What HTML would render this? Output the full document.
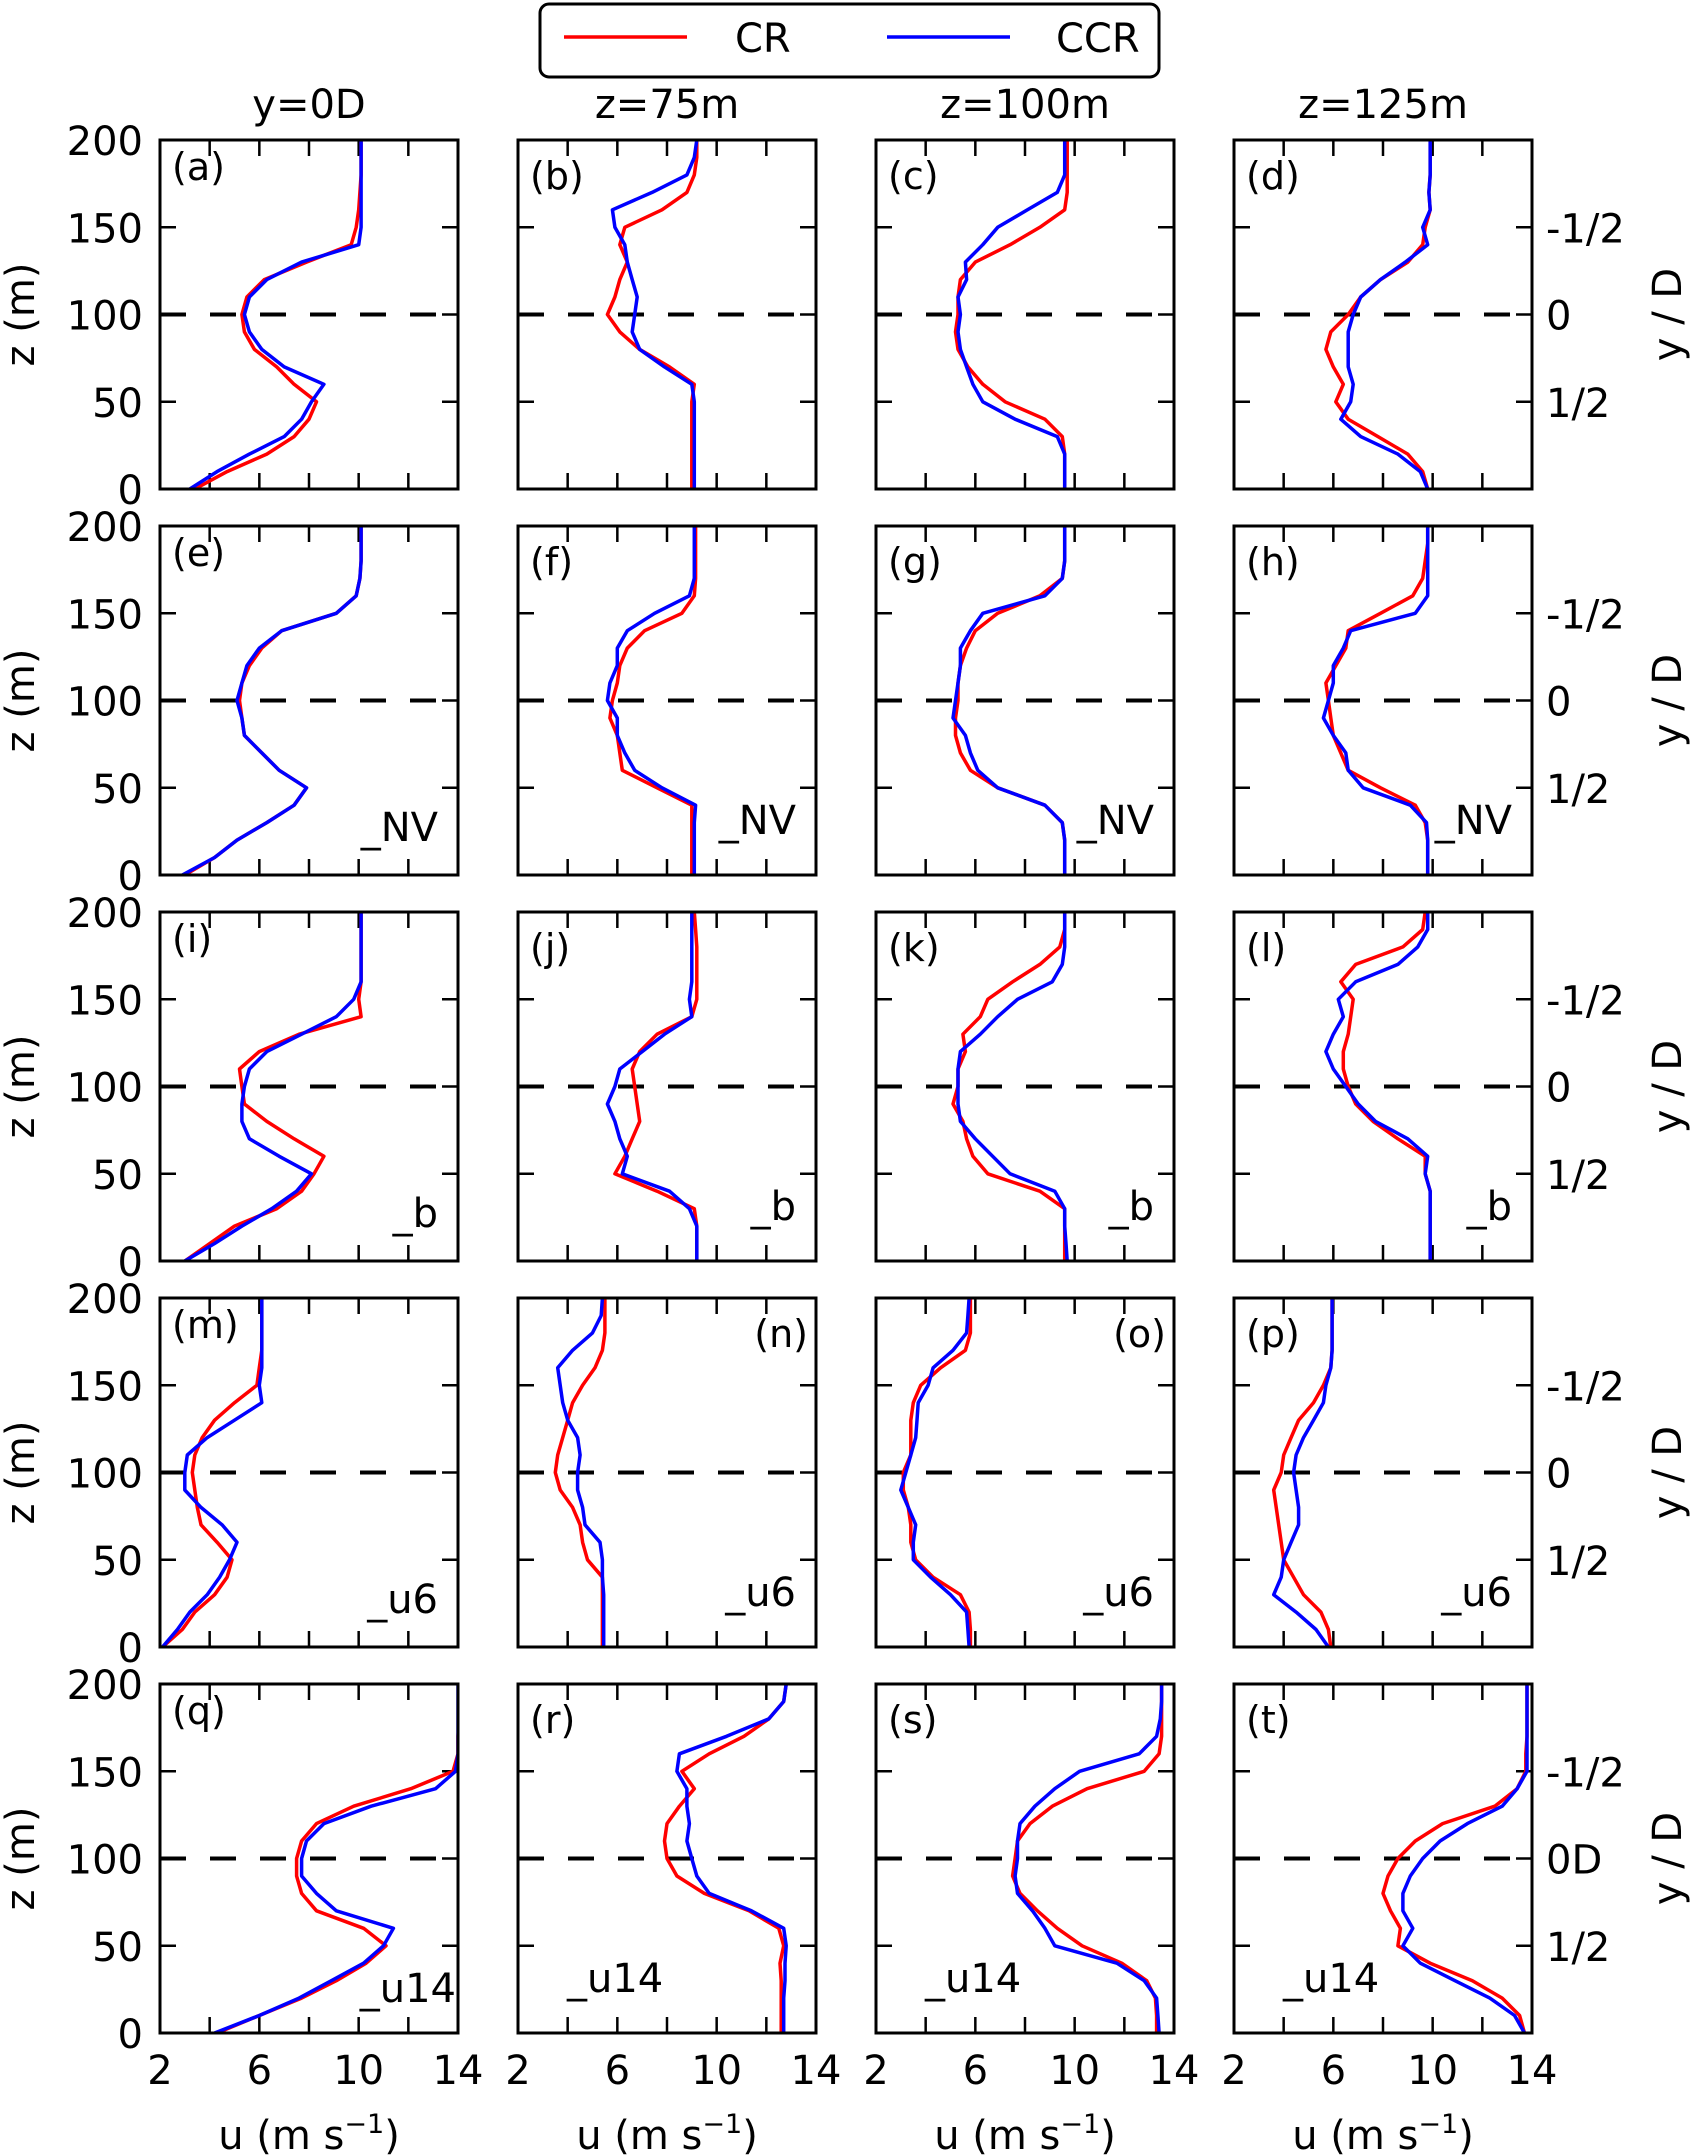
<!DOCTYPE html>
<html><head><meta charset="utf-8">
<style>
html,body{margin:0;padding:0;background:#fff;}
svg{display:block;font-family:"DejaVu Sans","Liberation Sans",sans-serif;}
</style></head>
<body>
<svg id="fig" width="1692" height="2155" viewBox="0 0 1692 2155" xmlns="http://www.w3.org/2000/svg">
  <g>
    <rect x="540" y="4" width="619" height="73" rx="9" fill="#fff" stroke="#000" stroke-width="3"/>
    <line x1="564" y1="37" x2="687" y2="37" stroke="#ff0000" stroke-width="3.5"/>
    <text x="735" y="52" font-size="40">CR</text>
    <line x1="887" y1="37" x2="1010" y2="37" stroke="#0000ff" stroke-width="3.5"/>
    <text x="1056" y="52" font-size="40">CCR</text>
  </g>
</svg>
<script>
const zLevels=[0,10,20,30,40,50,60,70,80,90,100,110,120,130,140,150,160,170,180,190,200];
const colTitles=["y=0D","z=75m","z=100m","z=125m"];
const panelLetters=["a","b","c","d","e","f","g","h","i","j","k","l","m","n","o","p","q","r","s","t"];
const rowSuffix=["","_NV","_b","_u6","_u14"];
const xTicks=[2,4,6,8,10,12,14];
const xTickLabels=["2","","6","","10","","14"];
const yTicks=[0,50,100,150,200];
const yTickLabels=["0","50","100","150","200"];
const rightLabelVals=[150,100,50];
const rightLabels=["-1/2","0","1/2"];
const rightLabelsLast=["-1/2","0D","1/2"];
const refHeight=100;
const crSeries=[
[3.4,4.7,6.3,7.4,8.0,8.3,7.4,6.7,5.8,5.4,5.3,5.5,6.2,7.9,9.7,9.9,10.0,10.05,10.1,10.1,10.1],
[9.0,9.0,9.0,9.0,9.0,9.0,9.1,8.1,6.9,6.1,5.6,5.9,6.1,6.4,6.1,6.3,7.8,8.8,9.1,9.2,9.2],
[9.6,9.6,9.6,9.5,8.8,7.2,6.3,5.7,5.3,5.2,5.3,5.3,5.4,6.0,7.4,8.6,9.6,9.7,9.7,9.7,9.7],
[9.8,9.6,9.0,7.8,6.6,6.1,6.4,6.0,5.7,5.9,6.6,7.1,7.9,9.0,9.6,9.7,9.9,9.85,9.9,9.9,9.9],
[3.0,4.2,5.1,6.3,7.4,7.9,6.8,6.1,5.4,5.3,5.2,5.3,5.6,6.1,6.9,9.1,9.9,10.05,10.1,10.1,10.1],
[9.0,9.0,9.0,9.0,9.0,7.6,6.2,6.1,6.0,5.7,5.8,6.0,6.1,6.4,7.1,8.6,9.1,9.15,9.15,9.15,9.15],
[9.6,9.6,9.6,9.5,8.8,6.9,5.8,5.4,5.2,5.2,5.3,5.3,5.4,5.65,6.0,6.9,8.6,9.5,9.6,9.6,9.6],
[9.8,9.8,9.8,9.7,9.3,7.9,6.6,6.3,6.0,5.9,5.8,5.7,6.1,6.5,6.6,7.9,9.2,9.6,9.7,9.8,9.8],
[3.0,4.0,5.0,6.7,7.7,8.2,8.6,7.4,6.3,5.4,5.3,5.2,6.0,7.6,10.1,10.0,10.1,10.1,10.1,10.1,10.1],
[9.2,9.2,9.2,9.1,7.6,5.9,6.3,6.6,6.9,6.8,6.7,6.6,6.9,7.6,9.0,9.2,9.2,9.2,9.2,9.15,9.1],
[9.6,9.6,9.6,9.6,8.6,6.5,5.9,5.65,5.5,5.1,5.3,5.3,5.6,5.5,6.2,6.5,7.5,8.6,9.4,9.6,9.6],
[9.9,9.9,9.9,9.9,9.9,9.7,9.7,8.6,7.6,6.9,6.6,6.4,6.4,6.6,6.7,6.8,6.3,6.9,8.8,9.6,9.7],
[2.1,2.9,3.4,4.2,4.7,4.9,4.3,3.65,3.5,3.4,3.3,3.4,3.7,4.2,5.0,5.9,6.0,6.1,6.1,6.1,6.1],
[5.4,5.4,5.4,5.4,5.4,4.8,4.6,4.5,4.2,3.7,3.5,3.6,3.8,4.0,4.2,4.6,5.1,5.4,5.5,5.5,5.5],
[5.8,5.8,5.75,5.4,4.3,3.6,3.4,3.4,3.3,3.1,3.1,3.4,3.4,3.4,3.5,3.8,4.6,5.6,5.8,5.8,5.8],
[5.9,5.8,5.5,4.8,4.4,4.0,3.9,3.8,3.7,3.6,3.9,4.0,4.3,4.6,5.2,5.6,5.9,5.95,5.95,5.95,5.95],
[4.3,6.0,7.7,9.1,10.3,11.1,10.2,8.3,7.7,7.5,7.5,7.7,8.3,9.8,12.1,13.8,14.0,14.0,14.05,14.05,14.05],
[12.6,12.6,12.6,12.6,12.55,12.7,12.5,11.3,9.5,8.4,8.0,7.9,8.0,8.5,9.1,8.6,9.7,11.1,12.1,12.7,12.8],
[13.3,13.3,13.25,12.9,11.9,10.3,9.3,8.5,7.8,7.5,7.6,7.7,8.2,9.1,10.5,12.8,13.4,13.5,13.5,13.5,13.5],
[13.7,13.5,12.8,11.6,9.9,8.6,8.7,8.3,8.0,8.2,8.6,9.3,10.4,12.5,13.4,13.75,13.75,13.8,13.8,13.8,13.8]
];
const ccrSeries=[
[3.2,4.3,5.6,7.0,7.7,8.1,8.6,7.0,6.1,5.6,5.4,5.6,6.3,7.7,10.0,10.1,10.1,10.1,10.1,10.1,10.1],
[9.1,9.1,9.1,9.1,9.1,9.1,9.0,7.9,6.9,6.6,6.7,6.8,6.6,6.4,6.3,5.9,5.8,7.4,8.8,9.1,9.2],
[9.6,9.6,9.6,9.3,7.6,6.3,5.9,5.65,5.4,5.3,5.4,5.3,5.65,5.6,6.3,6.9,8.1,9.3,9.6,9.6,9.6],
[9.8,9.5,8.6,7.1,6.3,6.7,6.8,6.6,6.6,6.6,6.8,7.1,7.9,8.9,9.8,9.6,9.9,9.85,9.9,9.9,9.9],
[2.9,4.2,5.1,6.3,7.4,7.9,6.8,6.1,5.4,5.3,5.1,5.3,5.5,6.0,6.9,9.1,9.9,10.05,10.1,10.1,10.1],
[9.1,9.1,9.1,9.1,9.15,7.8,6.7,6.3,6.0,6.0,5.6,5.7,6.0,6.0,6.4,7.5,8.9,9.1,9.1,9.1,9.1],
[9.6,9.6,9.6,9.5,8.8,6.9,6.1,5.8,5.6,5.1,5.2,5.3,5.4,5.4,5.8,6.3,8.8,9.5,9.6,9.6,9.6],
[9.8,9.8,9.8,9.75,9.1,7.2,6.6,6.5,6.0,5.6,5.8,6.0,6.0,6.4,6.7,9.3,9.8,9.8,9.8,9.8,9.8],
[3.0,4.2,5.3,6.5,7.5,8.1,6.8,5.6,5.3,5.3,5.4,5.6,6.3,7.7,9.1,9.8,10.1,10.1,10.1,10.1,10.1],
[9.2,9.2,9.2,8.9,8.1,6.2,6.4,6.1,5.9,5.6,5.9,6.1,7.0,7.9,9.0,8.9,9.0,9.0,9.0,9.0,9.0],
[9.7,9.65,9.6,9.6,9.2,7.4,6.7,6.0,5.4,5.3,5.3,5.3,5.4,6.2,6.9,7.7,9.1,9.5,9.6,9.6,9.6],
[9.9,9.9,9.9,9.9,9.9,9.7,9.8,9.0,7.7,7.0,6.5,6.0,5.7,6.0,6.4,6.2,6.9,8.6,9.4,9.8,9.8],
[2.1,2.7,3.2,3.9,4.4,4.8,5.1,4.5,3.65,3.0,3.0,3.1,3.9,5.0,6.1,6.0,6.1,6.1,6.1,6.1,6.1],
[5.45,5.45,5.45,5.45,5.4,5.4,5.3,4.7,4.6,4.4,4.4,4.5,4.4,4.0,3.8,3.7,3.6,4.2,5.0,5.35,5.4],
[5.75,5.7,5.65,5.0,4.2,3.5,3.5,3.6,3.3,3.0,3.2,3.4,3.6,3.65,3.7,4.1,4.3,5.1,5.65,5.7,5.75],
[5.8,5.3,4.5,3.6,3.9,4.0,4.3,4.6,4.6,4.5,4.4,4.5,4.8,5.2,5.6,5.7,5.9,5.95,5.95,5.95,5.95],
[4.2,6.0,7.6,8.9,10.2,11.0,11.4,9.1,8.3,7.7,7.7,7.9,8.6,10.5,13.1,13.9,14.0,14.0,14.0,14.0,14.0],
[12.7,12.7,12.7,12.75,12.75,12.8,12.7,11.4,9.7,9.2,9.0,8.8,8.9,8.8,8.8,8.4,8.5,10.4,12.1,12.7,12.8],
[13.4,13.35,13.3,12.8,11.7,9.2,8.8,8.3,7.7,7.6,7.7,7.7,7.8,8.4,9.2,10.2,12.6,13.3,13.45,13.5,13.5],
[13.7,13.3,12.3,10.9,9.5,8.8,9.2,8.8,8.8,9.1,9.6,10.3,11.4,12.8,13.4,13.8,13.8,13.8,13.8,13.8,13.8]
];

const NS="http://www.w3.org/2000/svg";
const svg=document.getElementById('fig');
const colLeft=[160,518,876,1234], rowTop=[140,526,912,1298,1684];
const PW=298, PH=349, XMIN=2, XMAX=14, ZMIN=0, ZMAX=200;
function mk(tag,attrs,parent){const e=document.createElementNS(NS,tag);for(const k in attrs)e.setAttribute(k,attrs[k]);(parent||svg).appendChild(e);return e;}
function txt(s,attrs,parent){const e=mk('text',attrs,parent);e.textContent=s;return e;}

colTitles.forEach((t,c)=>{
  const e=txt(t,{x:colLeft[c]+PW/2,y:118,'font-size':40,'text-anchor':'middle'});
  
  
});

for(let r=0;r<5;r++){
  for(let c=0;c<4;c++){
    const idx=r*4+c, L=colLeft[c], T=rowTop[r];
    const xs=u=>L+(u-XMIN)/(XMAX-XMIN)*PW;
    const ys=z=>T+PH-(z-ZMIN)/(ZMAX-ZMIN)*PH;
    const g=mk('g',{});
    
    
    const clipId='clip'+idx;
    const cp=mk('clipPath',{id:clipId},g);mk('rect',{x:L,y:T,width:PW,height:PH},cp);
    xTicks.forEach((v,i)=>{
      if(i===0||i===xTicks.length-1)return;
      mk('line',{x1:xs(v),y1:T+PH,x2:xs(v),y2:T+PH-16,stroke:'#000','stroke-width':2.5},g);
      mk('line',{x1:xs(v),y1:T,x2:xs(v),y2:T+16,stroke:'#000','stroke-width':2.5},g);
    });
    yTicks.forEach((v,i)=>{
      if(i===0||i===yTicks.length-1)return;
      mk('line',{x1:L,y1:ys(v),x2:L+16,y2:ys(v),stroke:'#000','stroke-width':2.5},g);
      mk('line',{x1:L+PW,y1:ys(v),x2:L+PW-16,y2:ys(v),stroke:'#000','stroke-width':2.5},g);
    });
    const dl=mk('line',{x1:L,y1:ys(refHeight),x2:L+PW,y2:ys(refHeight),stroke:'#000','stroke-width':4,'stroke-dasharray':'26 24'},g);
    
    
    [[crSeries,'#ff0000','cr'],[ccrSeries,'#0000ff','ccr']].forEach(([S,col,nm])=>{
      const pts=zLevels.map((z,i)=>xs(S[idx][i]).toFixed(1)+','+ys(z).toFixed(1)).join(' ');
      const pl=mk('polyline',{points:pts,fill:'none',stroke:col,'stroke-width':3.5,'stroke-linejoin':'round','clip-path':'url(#'+clipId+')'},g);
      
      
    });
    mk('rect',{x:L,y:T,width:PW,height:PH,fill:'none',stroke:'#000','stroke-width':3},g);
    const rightAligned=(idx===13||idx===14);
    const lab=txt('('+panelLetters[idx]+')',{x:rightAligned?L+PW-8:L+12,y:T+(c===0?40:49),'font-size':38,'text-anchor':rightAligned?'end':'start'},g);
    
    
    if(rowSuffix[r]){
      let sx,anchor,sy;
      if(r===4&&c>0){sx=L+49;anchor='start';sy=T+308;}
      else if(r===4){sx=L+296;anchor='end';sy=T+318;}
      else {sx=L+278;anchor='end';sy=T+(c===0?315:308);}
      const st=txt(rowSuffix[r],{x:sx,y:sy,'font-size':40,'text-anchor':anchor},g);
      
      
    }
    if(c===0){
      yTicks.forEach((v,i)=>{
        const t=txt(yTickLabels[i],{x:143,y:ys(v)+15,'font-size':40,'text-anchor':'end'});
        
        
      });
      const yl=txt('z (m)',{x:0,y:0,'font-size':40,'text-anchor':'middle',transform:'translate(34,'+(T+PH/2)+') rotate(-90)'});
      
      
    }
    if(c===3){
      const labs=(r===4)?rightLabelsLast:rightLabels;
      rightLabelVals.forEach((v,i)=>{
        const t=txt(labs[i],{x:L+PW+14,y:ys(v)+15,'font-size':40,'text-anchor':'start'});
        
        
      });
      const rl=txt('y / D',{x:0,y:0,'font-size':40,'text-anchor':'middle',transform:'translate(1681,'+(T+PH/2)+') rotate(-90)'});
      
      
    }
    if(r===4){
      xTicks.forEach((v,i)=>{
        if(!xTickLabels[i])return;
        const t=txt(xTickLabels[i],{x:xs(v),y:2084,'font-size':40,'text-anchor':'middle'});
        
        
      });
      const xl=txt('',{x:L+PW/2,y:2149,'font-size':40,'text-anchor':'middle'});
      
      
      const t1=document.createElementNS(NS,'tspan');t1.textContent='u (m s';xl.appendChild(t1);
      const t2=document.createElementNS(NS,'tspan');t2.setAttribute('dy','-16');t2.setAttribute('font-size','27');t2.textContent='\u22121';xl.appendChild(t2);
      const t3=document.createElementNS(NS,'tspan');t3.setAttribute('dy','16');t3.textContent=')';xl.appendChild(t3);
    }
  }
}
</script>
</body></html>
